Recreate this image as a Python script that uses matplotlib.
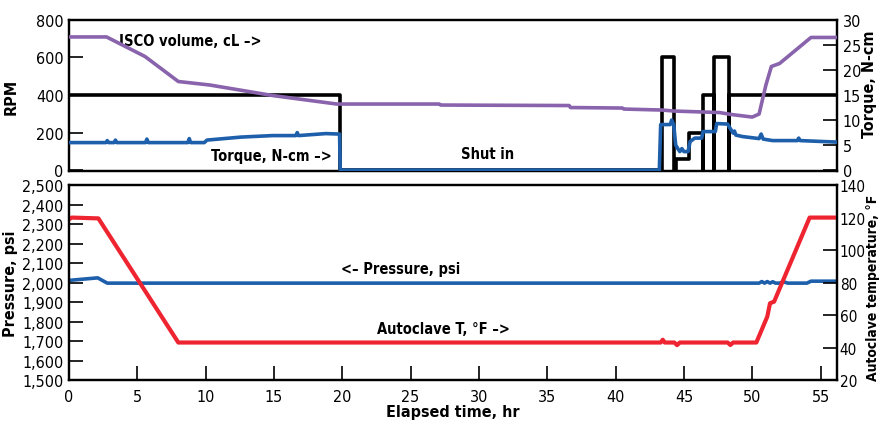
import matplotlib
matplotlib.use('Agg')
from matplotlib import pyplot as plt

plt.rcParams['font.family'] = ['DejaVu Sans']
plt.rcParams['font.stretch'] = 'condensed'

# top panel: RPM (left) and torque / ISCO volume (right)
rpmHr = [0, 19.8, 19.8, 43.4, 43.4, 44.3, 44.3, 44.42, 44.42, 45.39, 45.39, 46.37, 46.37, 46.37,
         47.22, 47.22, 47.22, 48.32, 48.32, 48.32, 56.2]
rpm = [400, 400, 0, 0, 600, 600, 0, 0, 58, 58, 200, 200, 0, 400,
       400, 0, 600, 600, 0, 400, 400]

torqueHr = [0, 2.7, 2.8, 2.9, 3.3, 3.4, 3.5, 5.6, 5.7, 5.8, 8.7, 8.8, 8.9, 9.9, 10.1, 12.6, 14.9,
            16.6, 16.7, 16.8, 18.8, 19.8, 19.85, 43.2, 43.3, 44.0, 44.1, 44.25, 44.4, 44.55, 44.7,
            44.85, 45.0, 45.3, 45.45, 45.8, 46.3, 46.4, 47.3, 47.4, 48.2, 48.35, 48.6, 48.7, 48.8,
            49.3, 50.5, 50.65, 50.8, 51.5, 53.3, 53.4, 53.5, 56.2]
torque = [5.5, 5.5, 5.9, 5.5, 5.5, 6.0, 5.5, 5.5, 6.2, 5.5, 5.5, 6.3, 5.5, 5.5, 6.0, 6.6, 6.9,
          6.9, 7.5, 6.9, 7.3, 7.2, 0, 0, 9.1, 9.1, 10.0, 9.1, 5.0, 4.3, 3.7, 4.3, 3.7, 3.7,
          5.7, 6.4, 6.4, 7.7, 7.7, 9.3, 9.2, 8.5, 7.4, 7.8, 7.0, 6.7, 6.3, 7.2, 6.2, 5.9, 5.9,
          6.4, 5.9, 5.6]

iscoHr = [0, 2.75, 5.56, 8.0, 10.3, 14.9, 19.6, 27.1, 27.2, 36.6, 36.7, 40.5, 40.6, 43.4, 44.3,
          47.6, 48.5, 50.0, 50.5, 51.0, 51.4, 52.0, 54.3, 56.2]
isco = [26.6, 26.6, 22.7, 17.7, 17.0, 14.9, 13.2, 13.2, 13.0, 12.9, 12.5, 12.4, 12.2, 12.0, 11.8,
        11.5, 11.1, 10.6, 11.2, 17.0, 20.7, 21.3, 26.5, 26.5]

# bottom panel: pressure (left) and autoclave temperature (right)
pressHr = [0, 2.1, 2.8, 50.5, 50.7, 50.9, 51.1, 51.3, 51.5, 51.7, 52.0, 52.3, 52.6, 52.9,
           54.0, 54.3, 56.2]
pressure = [2012, 2025, 1998, 1998, 2006, 1998, 2006, 1998, 2005, 1998, 1998, 2005, 1998, 1998,
            1998, 2008, 2008]

tempHr = [0, 0.2, 2.15, 8.0, 43.3, 43.45, 43.6, 44.3, 44.5, 44.7, 48.2, 48.4, 48.6, 50.3, 51.1,
          51.3, 51.6, 54.2, 56.2]
temp = [119, 120, 119.5, 43.3, 43.3, 45, 43.3, 43.3, 41.7, 43.3, 43.3, 41.8, 43.3, 43.3, 59.2,
        67.4, 68.4, 120, 120]

xTicks = list(range(0, 60, 5))

purple = '#8a63ad'
blue = '#1d5fab'
red = '#ee2430'
lw = 2.6
tickFont = 11.5
labelFont = 11.5

fig = plt.figure(figsize=(8.8, 4.27), dpi=100)
axTop = fig.add_axes([0.0784, 0.597, 0.8727, 0.354])
axBot = fig.add_axes([0.0784, 0.1066, 0.8727, 0.4578])
axTopR = axTop.twinx()
axBotR = axBot.twinx()

axTop.plot(rpmHr, rpm, color='black', lw=lw, zorder=2)
axTop.set_zorder(1)
axTopR.set_zorder(2)
axTopR.plot(torqueHr, torque, color=blue, lw=lw, zorder=3)
axTopR.plot(iscoHr, isco, color=purple, lw=lw, zorder=4)

axBot.plot(pressHr, pressure, color=blue, lw=lw)
axBot.set_zorder(1)
axBotR.set_zorder(2)
axBotR.plot(tempHr, temp, color=red, lw=lw + 0.4)

for ax in [axTop, axBot, axTopR, axBotR]:
    ax.set_xlim(0, 56.2)
    ax.patch.set_visible(False)
    for s in ax.spines.values():
        s.set_linewidth(1.6)
    ax.tick_params(direction='in', length=10, width=1.2, labelsize=tickFont, pad=4)

axTop.set_ylim(-5, 800)
axTop.set_yticks([0, 200, 400, 600, 800])
axTopR.set_ylim(-0.19, 30)
axTopR.set_yticks([0, 5, 10, 15, 20, 25, 30])
axTop.set_xticks([])
axTopR.set_xticks([])

axBot.set_ylim(1500, 2500)
axBot.set_yticks(range(1500, 2600, 100))
axBot.set_yticklabels(['{:,}'.format(v) for v in range(1500, 2600, 100)])
axBotR.set_ylim(20, 140)
axBotR.set_yticks(range(20, 160, 20))
axBotR.tick_params(axis='y', pad=2, labelsize=11)
axBot.set_xticks(xTicks)
axBot.tick_params(axis='x', pad=6)

axTop.set_ylabel('RPM', fontsize=labelFont, fontweight='bold')
axTop.yaxis.set_label_coords(-0.066, 0.5)
axTopR.set_ylabel('Torque, N-cm', fontsize=labelFont, fontweight='bold')
axTopR.yaxis.set_label_coords(1.032, 0.58)
axBot.set_ylabel('Pressure, psi', fontsize=labelFont, fontweight='bold')
axBot.yaxis.set_label_coords(-0.066, 0.5)
axBot.set_xlabel('Elapsed time, hr', fontsize=labelFont, fontweight='bold', labelpad=0)
fig.text(0.9925, 0.325, 'Autoclave temperature, °F', rotation=90, fontsize=10,
         fontweight='bold', ha='center', va='center')

txt = dict(fontsize=10.5, fontweight='bold', ha='center', va='center')
axTopR.text(8.9, 25.9, 'ISCO volume, cL \u2013>', **txt)
axTopR.text(14.8, 3.0, 'Torque, N-cm \u2013>', **txt)
axTopR.text(30.6, 3.3, 'Shut in', **txt)
axBot.text(24.3, 2072, '<\u2013 Pressure, psi', **txt)
axBotR.text(27.4, 52, 'Autoclave T, °F \u2013>', **txt)

fig.savefig('out.png', dpi=100)
